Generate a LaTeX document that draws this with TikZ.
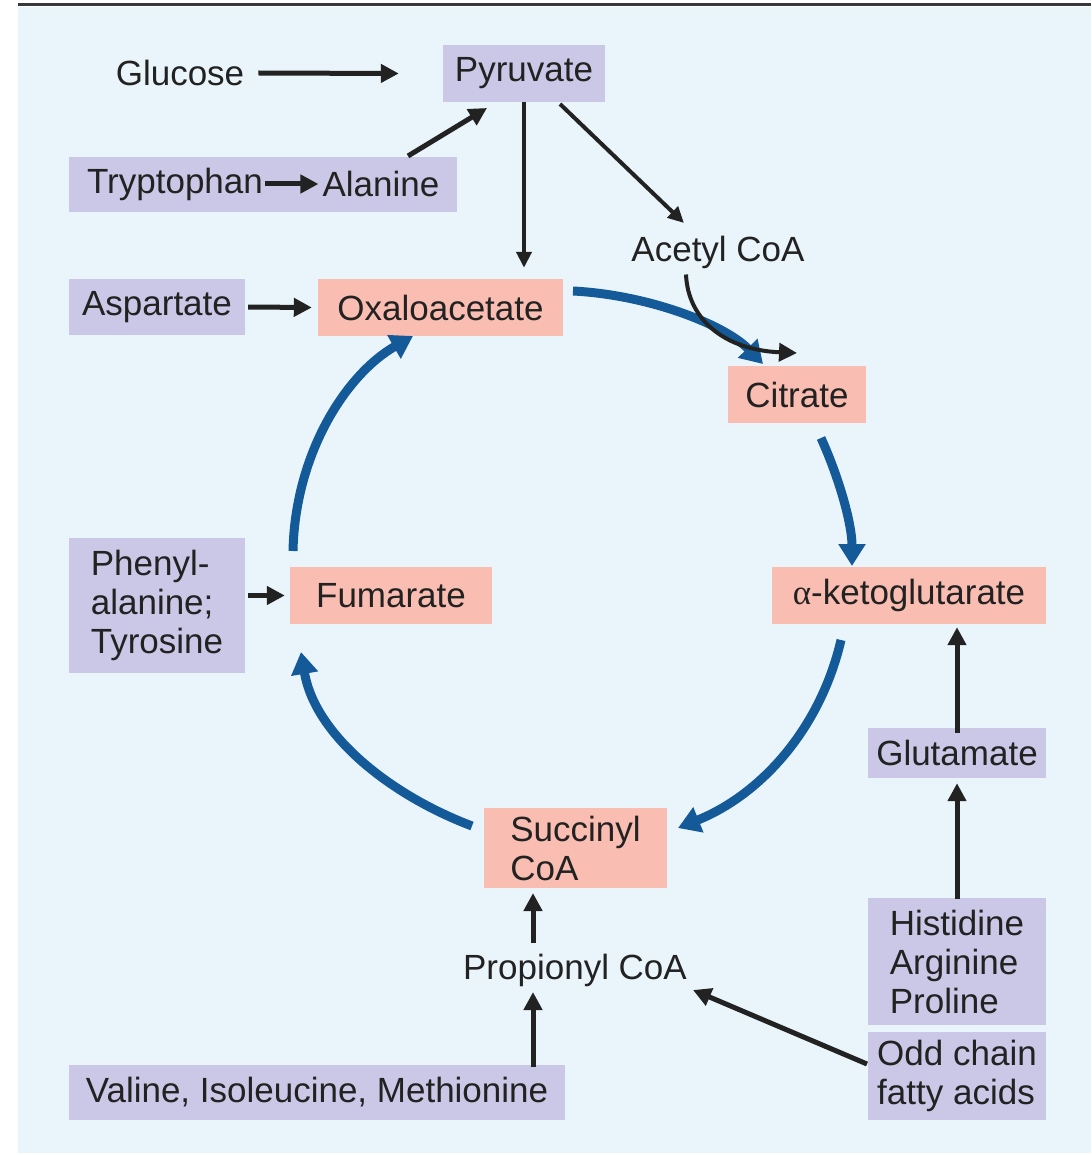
\documentclass[tikz,border=0pt]{standalone}
\usepackage{fontspec}
\setmainfont{Liberation Sans}
\newfontfamily\greekfont{Liberation Serif}
\usetikzlibrary{arrows.meta,calc}
\definecolor{bgblue}{HTML}{EAF5FB}
\definecolor{purp}{HTML}{CBC7E6}
\definecolor{salm}{HTML}{F9BDB2}
\definecolor{cycblue}{HTML}{155A98}
\definecolor{ink}{HTML}{222222}
\begin{document}
\begin{tikzpicture}[x=1pt,y=-1pt,
  every node/.style={font=\fontsize{35}{39}\selectfont, text=ink, inner sep=0pt},
  pbox/.style={fill=purp, minimum width=#1, align=left},
  sbox/.style={fill=salm, minimum width=#1, align=left},
  plain/.style={align=left},
  blk/.style={draw=ink, line width=5pt, -{Triangle[length=18pt,width=18pt]}},
  thinblk/.style={draw=ink, line width=4pt, -{Triangle[length=16pt,width=15pt]}},
  cyc/.style={draw=cycblue, line width=9pt, -{Triangle[length=22pt,width=26pt]}}
]
\useasboundingbox (0,0) rectangle (1091,1155);
\fill[white] (0,0) rectangle (1091,1155);
\fill[bgblue] (18,7) rectangle (1091,1153);
\draw[line width=3pt, draw=ink!90] (18,5) -- (1091,5);

% nodes
\node[plain] (glu) at (180,73) {Glucose};
\node[pbox=162pt, minimum height=57pt] (pyr) at (524,73.5) {Pyruvate};
\node[pbox=388pt, minimum height=55pt] (trpbox) at (263,184.5) {};
\node[plain] (trp) at (175,184) {Tryptophan};
\node[plain] (ala) at (381,184) {Alanine};
\node[plain] (acoa) at (718,252) {Acetyl CoA};
\node[pbox=176pt, minimum height=56pt] (asp) at (157,307) {Aspartate};
\node[sbox=245pt, minimum height=57pt] (oxa) at (440.5,307.5) {Oxaloacetate};
\node[sbox=138pt, minimum height=57pt] (cit) at (797,394.5) {Citrate};
\node[sbox=274pt, minimum height=57pt] (akg) at (909,595.5) {{\greekfont α}-ketoglutarate};
\node[sbox=202pt, minimum height=57pt] (fum) at (391,595.5) {Fumarate};
\node[pbox=176pt, minimum height=135pt] (phe) at (157,605.5) {Phenyl-\\alanine;\\Tyrosine};
\node[pbox=178pt, minimum height=50pt] (glt) at (957,753) {Glutamate};
\node[sbox=183pt, minimum height=80pt] (suc) at (575.5,848) {Succinyl\\CoA};
\node[plain] (pro) at (575,970) {Propionyl CoA};
\node[pbox=178pt, minimum height=127pt] (his) at (957,961.5) {Histidine\\Arginine\\Proline};
\node[pbox=178pt, minimum height=88pt] (odd) at (957,1076) {Odd chain\\fatty acids};
\node[pbox=496pt, minimum height=55pt] (val) at (317,1092.5) {Valine, Isoleucine, Methionine};

% black connectors
\draw[blk] (glu.east) ++(14pt,0) coordinate (gluout) -- ([xshift=-44pt]pyr.west);
\draw[blk] (trp.east) ++(2pt,0) coordinate (trpout) -- ([xshift=-4pt]ala.west);
\coordinate (alaout) at (408,156);
\coordinate (pyrin) at (487,108);
\draw[blk] (alaout) -- (pyrin);
\draw[thinblk] (pyr.south) -- ([yshift=11pt]pyr.south |- oxa.north);
\coordinate (pyrout2) at (560,104);
\coordinate (acoain) at (684,223);
\draw[thinblk] (pyrout2) -- (acoain);
\draw[blk] ([xshift=3pt]asp.east) -- ([xshift=-6pt]oxa.west);
\draw[blk] ([xshift=3pt]phe.east |- fum.west) -- ([xshift=-5pt]fum.west);
\draw[blk] ([yshift=-5pt]glt.north) -- ([yshift=-3pt]glt.north |- akg.south);
\draw[blk] ([yshift=-1pt]his.north) -- ([yshift=-5pt]his.north |- glt.south);
\draw[blk] (533,943) coordinate (proout) -- ([yshift=-5pt]533,888) coordinate (sucin);
\draw[blk] ([yshift=-2pt]533,1065) coordinate (valout) -- (533,992) coordinate (proin);
\coordinate (oddout) at (867,1064);
\coordinate (proin2) at (693,990);
\draw[blk] (oddout) -- (proin2);

% TCA cycle arcs
\coordinate (oxaout) at (573,291);
\coordinate (citin) at (763,364);
\draw[cyc] (oxaout) .. controls (650,295) and (725,325) .. (citin);
\draw[blk, line width=4pt] ($(acoa.south)+(-32pt,-6pt)$) .. controls (688,320) and (725,350) .. (797,353) coordinate (acoaend);
\coordinate (citout) at (821,438);
\coordinate (akgin) at (852,566);
\draw[cyc] (citout) .. controls (840,480) and (852,525) .. (akgin);
\coordinate (akgout) at (841,640);
\coordinate (sucin2) at (678,828);
\draw[cyc] (akgout) .. controls (820,730) and (760,795) .. (sucin2);
\coordinate (sucout) at (472,826);
\coordinate (fumin) at (301,652);
\draw[cyc] (sucout) .. controls (390,795) and (315,735) .. (fumin);
\coordinate (fumout) at (293,551);
\coordinate (oxain) at (413,336);
\draw[cyc] (fumout) .. controls (295,455) and (345,375) .. (oxain);
\end{tikzpicture}
\end{document}
